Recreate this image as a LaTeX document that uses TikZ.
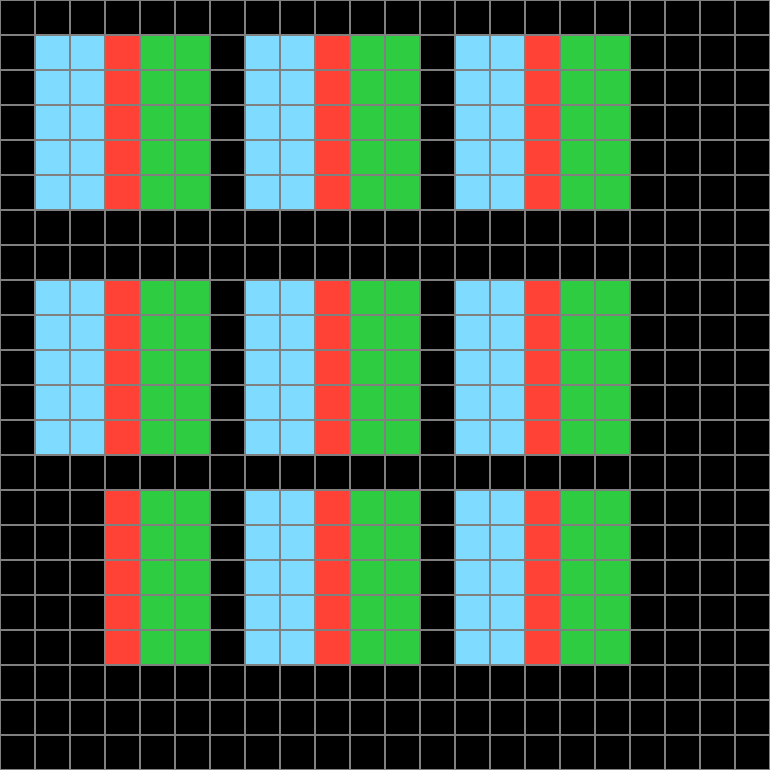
\documentclass[tikz,border=0pt]{standalone}
\definecolor{cellblue}{HTML}{7FDBFF}
\definecolor{cellred}{HTML}{FF4136}
\definecolor{cellgreen}{HTML}{2ECC40}
\definecolor{gridgray}{HTML}{808080}
\begin{document}
\begin{tikzpicture}[y=-1cm,
  bluecell/.style={fill=cellblue},
  redcell/.style={fill=cellred},
  greencell/.style={fill=cellgreen},
  gridline/.style={draw=gridgray,line width=2.4pt}]
\useasboundingbox (0,0) rectangle (22,22);
\fill[black] (0,0) rectangle (22,22);
\foreach \bx in {1,7,13}{
  \foreach \by in {1,8,14}{
    \fill[redcell] (\bx+2,\by) rectangle (\bx+3,\by+5);
    \fill[greencell] (\bx+3,\by) rectangle (\bx+5,\by+5);
  }
}
\foreach \bx/\by in {1/1,7/1,13/1,1/8,7/8,13/8,7/14,13/14}{
  \fill[bluecell] (\bx,\by) rectangle (\bx+2,\by+5);
}
\draw[gridline] (0,0) grid (22,22);
\end{tikzpicture}
\end{document}
